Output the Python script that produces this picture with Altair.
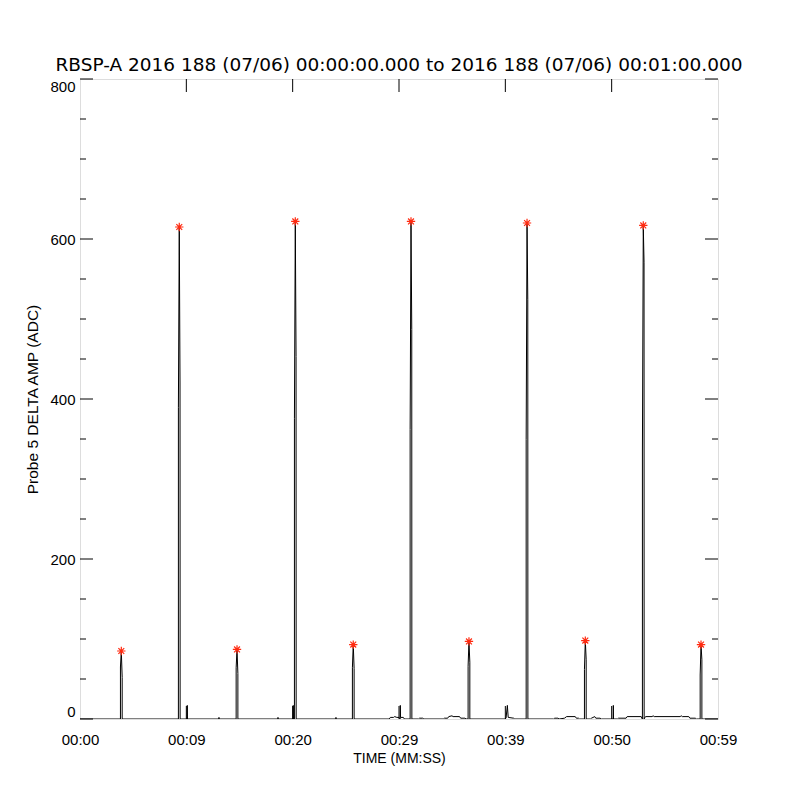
import json
import altair as alt
import pandas as pd

# ---- data (seconds after 00:00:00, ADC amplitude) ----
times = [
    0.0,
    3.74, 3.74, 3.82, 3.90, 3.90,
    9.10, 9.10, 9.18, 9.25, 9.26,
    9.90, 9.92, 9.94,
    12.84, 12.85, 12.86,
    14.44, 14.44, 14.52, 14.60, 14.60,
    18.30, 18.31, 18.32,
    19.70, 19.72, 19.74,
    19.83, 19.83, 19.91, 19.98, 19.99,
    23.66, 23.67, 23.68,
    25.19, 25.19, 25.27, 25.35, 25.35,
    28.6, 28.7, 29.0, 29.1, 29.3, 29.5, 29.6, 29.62, 29.64, 29.9, 30.0,
    30.53, 30.53, 30.61, 30.68, 30.69,
    31.3, 31.4, 31.7, 31.8,
    33.6, 33.7, 34.0, 34.1, 34.4, 34.5, 35.1, 35.2, 35.6, 35.7,
    35.89, 35.89, 35.97, 36.05, 36.05,
    39.3, 39.4, 39.52, 39.6, 40.1, 40.2,
    41.26, 41.26, 41.34, 41.41, 41.42,
    43.8, 43.9, 44.2, 44.3, 44.8, 45.0, 45.8, 45.9, 46.1, 46.2,
    46.65, 46.65, 46.73, 46.81, 46.81,
    47.2, 47.3, 47.6, 47.7, 48.1, 48.2,
    49.30, 49.32, 49.34,
    49.7, 49.8, 50.5, 50.6, 51.9, 52.0,
    52.01, 52.01, 52.09, 52.16, 52.17,
    52.2, 52.3, 52.9, 53.0, 53.1, 55.5, 55.6, 55.7, 56.3, 56.4, 56.9, 57.0,
    57.35, 57.35, 57.43, 57.51, 57.51,
    59.0,
]
amps = [
    0,
    0, 65, 85, 52, 0,
    0, 389, 615, 420, 0,
    0, 17, 0,
    0, 2, 0,
    0, 64, 87, 57, 0,
    0, 2, 0,
    0, 17, 0,
    0, 376, 622, 453, 0,
    0, 2, 0,
    0, 64, 93, 63, 0,
    0, 2, 2, 3, 2, 2, 0, 17, 2, 2, 0,
    0, 362, 622, 487, 0,
    0, 1, 1, 0,
    0, 1, 1, 3, 4, 3, 3, 1, 1, 0,
    0, 66, 97, 71, 0,
    0, 1, 17, 2, 1, 0,
    0, 349, 620, 524, 0,
    0, 1, 1, 0, 1, 3, 3, 1, 1, 0,
    0, 62, 98, 74, 0,
    0, 1, 3, 1, 1, 0,
    0, 17, 0,
    0, 1, 1, 3, 3, 0,
    0, 335, 617, 571, 0,
    1, 3, 3, 4, 3, 3, 4, 3, 3, 1, 1, 0,
    0, 55, 93, 74, 0,
    0,
]

peak_times = [3.82, 9.18, 14.52, 19.91, 25.27, 30.61, 35.97, 41.34, 46.73, 52.09, 57.43]
peak_amps = [85, 615, 87, 622, 93, 622, 97, 620, 98, 617, 93]

x_tick_labels = ["00:00", "00:09", "00:20", "00:29", "00:39", "00:50", "00:59"]
x_max = 59.0
y_major = [0, 200, 400, 600, 800]
y_minor = [50, 100, 150, 250, 300, 350, 450, 500, 550, 650, 700, 750]

title_text = "RBSP-A 2016 188 (07/06) 00:00:00.000 to 2016 188 (07/06) 00:01:00.000"

W, H = 638, 640
FONT = "Liberation Sans"
TFONT = "DejaVu Sans"

x_tick_values = [i * x_max / 6 for i in range(7)]

line_df = pd.DataFrame({"t": times, "amp": amps, "i": list(range(len(times)))})
peak_df = pd.DataFrame({"t": peak_times, "amp": peak_amps})
ymaj_df = pd.DataFrame({"amp": y_major})
ymin_df = pd.DataFrame({"amp": y_minor})
xt_df = pd.DataFrame({"t": x_tick_values[1:-1]})

xscale = alt.Scale(domain=[0, x_max], nice=False, zero=False)
yscale = alt.Scale(domain=[0, 800], nice=False)

label_expr = json.dumps(x_tick_labels) + "[round(datum.value / " + repr(x_max / 6) + ")]"

xaxis = alt.Axis(
    values=x_tick_values, labelExpr=label_expr, title="TIME (MM:SS)",
    grid=False, ticks=False, domain=False, tickSize=0,
    labelPadding=13, titlePadding=4, labelFont=FONT, labelFontSize=15,
    titleFont=FONT, titleFontSize=14, titleFontWeight="normal",
    labelColor="black", titleColor="black", labelFlush=False,
)
yaxis = alt.Axis(
    values=y_major, title="Probe 5 DELTA AMP (ADC)",
    grid=False, ticks=False, domain=False, tickSize=0,
    labelPadding=5, titlePadding=9, labelFont=FONT, labelFontSize=15,
    titleFont=FONT, titleFontSize=15.5, titleFontWeight="normal",
    labelColor="black", titleColor="black", labelFlush=True,
)

X = alt.X("t:Q", scale=xscale, axis=xaxis)
Y = alt.Y("amp:Q", scale=yscale, axis=yaxis)

line = alt.Chart(line_df).mark_line(color="black", strokeWidth=1, clip=True).encode(
    x=X, y=Y, order=alt.Order("i:Q")
)

star_path = "M-1,0L1,0M0,-1L0,1M-0.7,-0.7L0.7,0.7M-0.7,0.7L0.7,-0.7"
stars = alt.Chart(peak_df).mark_point(
    shape=star_path, color="#ff2a10", filled=False, strokeWidth=1.2, size=70, opacity=1
).encode(x=X, y=Y)

def yrule(df, x0, x1):
    return alt.Chart(df).mark_rule(color="black", strokeWidth=1).encode(
        y=Y, x=alt.value(x0), x2=alt.value(x1)
    )

def xrule(y0, y1):
    return alt.Chart(xt_df).mark_rule(color="black", strokeWidth=1).encode(
        x=X, y=alt.value(y0), y2=alt.value(y1)
    )

ticks = [
    yrule(ymaj_df, 0, 13), yrule(ymin_df, 0, 6),
    yrule(ymaj_df, W - 13, W), yrule(ymin_df, W - 6, W),
    xrule(0, 13), xrule(H - 13, H),
]

chart = alt.layer(line, stars, *ticks).properties(
    width=W, height=H,
    title=alt.TitleParams(
        title_text, font=TFONT, fontSize=18.5, fontWeight="normal", color="black",
        anchor="middle", offset=4,
    ),
    autosize=alt.AutoSizeParams(type="none"),
    padding={"left": 72, "top": 71, "right": 74, "bottom": 73},
).configure_view(stroke="black", strokeWidth=1).configure(background="white")

chart.save("out.html", embed_options={"renderer": "svg", "actions": False})
